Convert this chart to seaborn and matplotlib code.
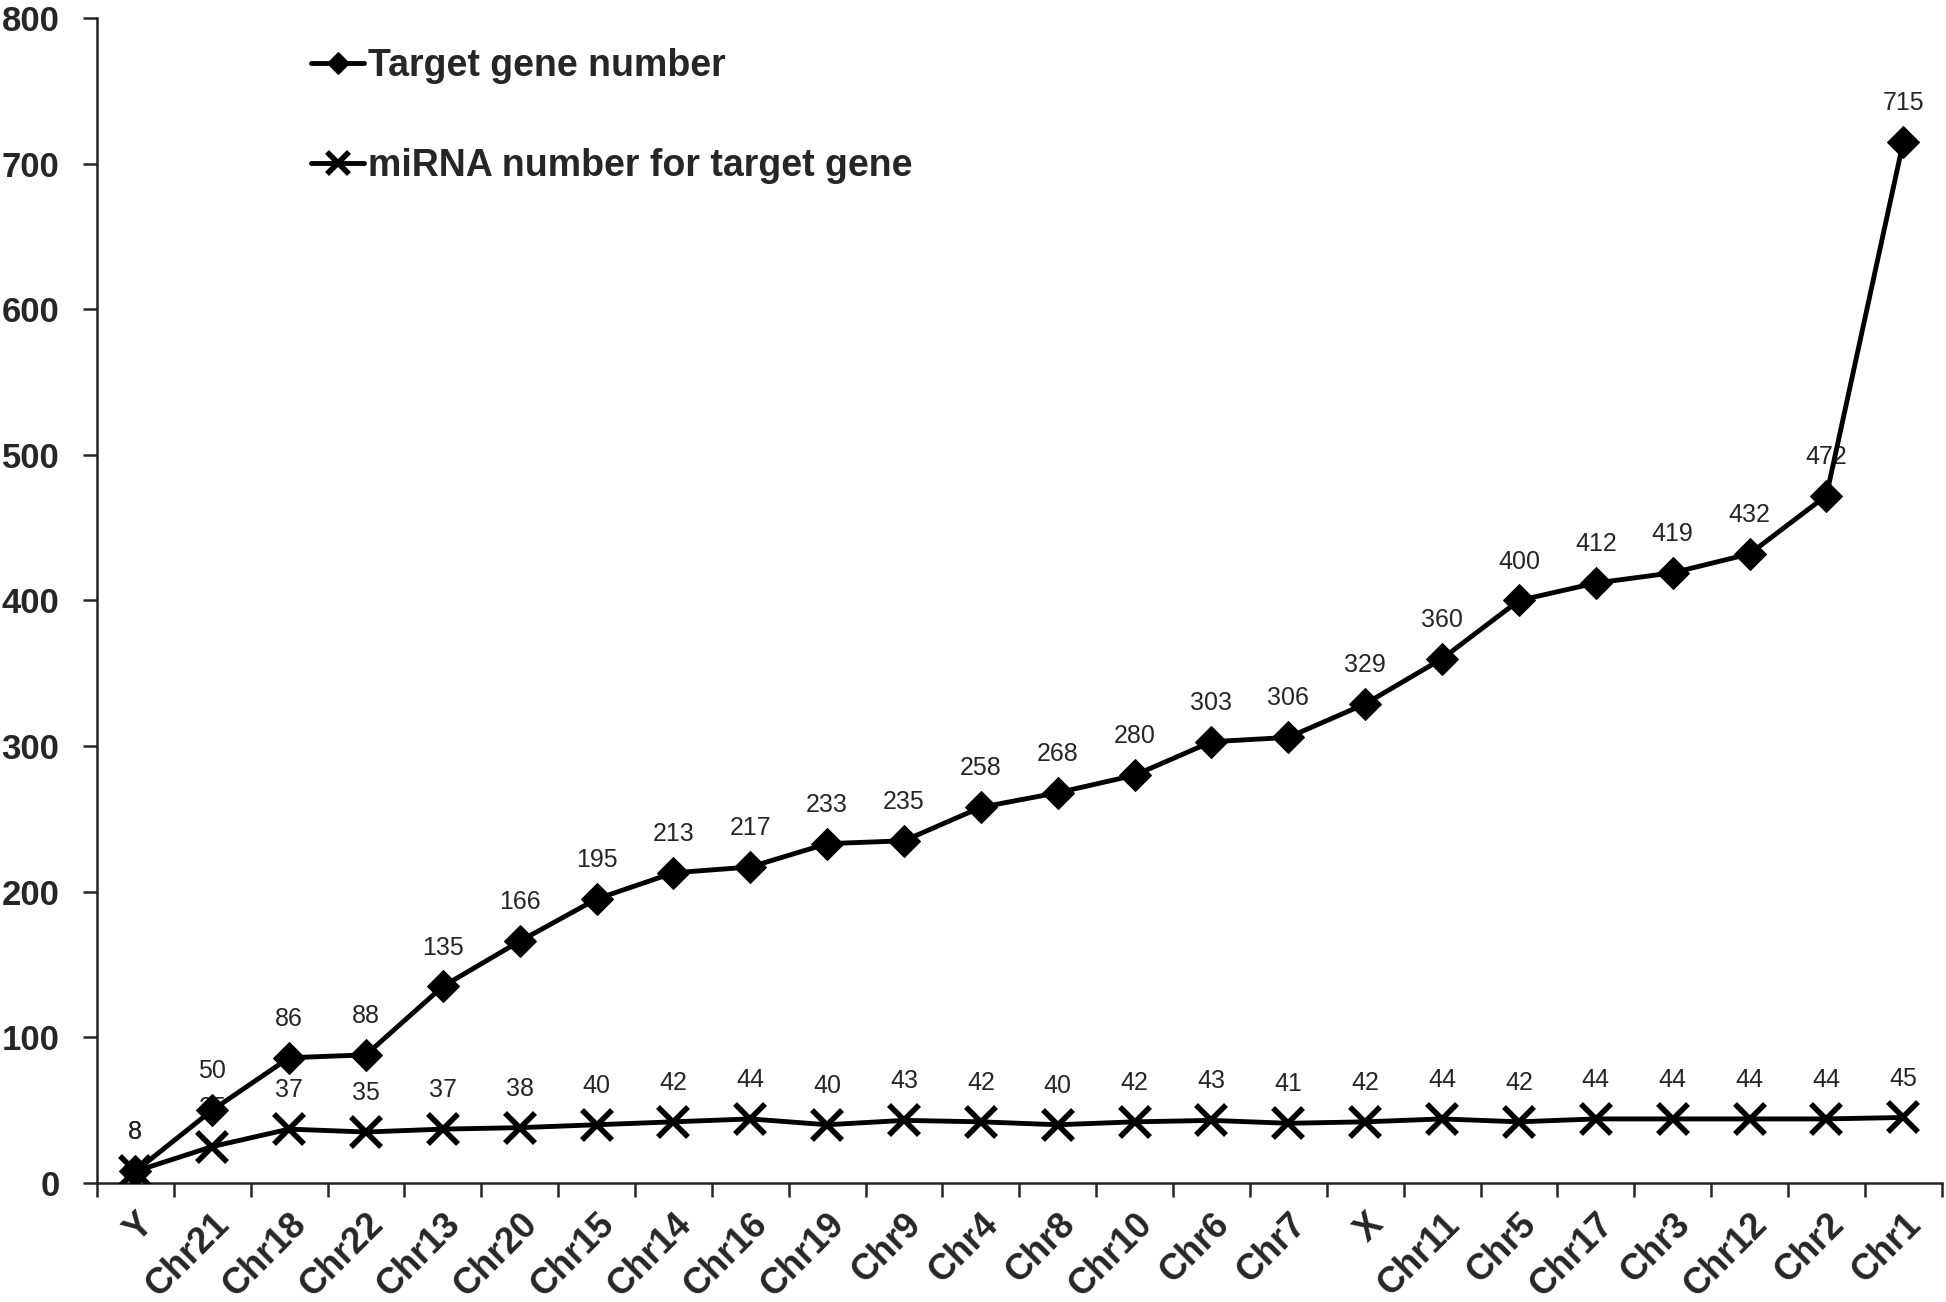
import numpy as np
import pandas as pd
import matplotlib
matplotlib.use('Agg')
import matplotlib.pyplot as plt
import matplotlib.transforms as mtransforms
import seaborn as sns

# chromosomes ordered by target gene count
chromosomes = ['Y', 'Chr21', 'Chr18', 'Chr22', 'Chr13', 'Chr20', 'Chr15', 'Chr14',
               'Chr16', 'Chr19', 'Chr9', 'Chr4', 'Chr8', 'Chr10', 'Chr6', 'Chr7',
               'X', 'Chr11', 'Chr5', 'Chr17', 'Chr3', 'Chr12', 'Chr2', 'Chr1']
target_genes = [8, 50, 86, 88, 135, 166, 195, 213, 217, 233, 235, 258, 268, 280,
                303, 306, 329, 360, 400, 412, 419, 432, 472, 715]
mirna_counts = [8, 25, 37, 35, 37, 38, 40, 42, 44, 40, 43, 42, 40, 42,
                43, 41, 42, 44, 42, 44, 44, 44, 44, 45]
y_ticks = [0, 100, 200, 300, 400, 500, 600, 700, 800]

sns.set_style('ticks')
plt.rcParams['font.family'] = ['Liberation Sans', 'DejaVu Sans']

df = pd.DataFrame({'chrom': chromosomes, 'target': target_genes, 'mirna': mirna_counts})

fig = plt.figure(figsize=(19.46, 13.02), dpi=100)
ax = fig.add_axes([0.0498, 0.0914, 0.948, 0.8948])

sns.lineplot(data=df, x='chrom', y='target', sort=False, ax=ax, color='black',
             linewidth=3.5, linestyle='-', marker='D', markersize=16,
             markeredgecolor='black', markerfacecolor='black',
             label='Target gene number', zorder=3)
sns.lineplot(data=df, x='chrom', y='mirna', sort=False, ax=ax, color='black',
             linewidth=3.5, linestyle='-', marker='x', markersize=22,
             markeredgewidth=4, markeredgecolor='black',
             label='miRNA number for target gene', zorder=3)

# value labels above points
for i, (t, m) in enumerate(zip(target_genes, mirna_counts)):
    ax.annotate(str(t), (i, t), xytext=(0, 28), textcoords='offset points',
                ha='center', va='center', fontsize=18, zorder=1)
    ax.annotate(str(m), (i, m), xytext=(0, 28), textcoords='offset points',
                ha='center', va='center', fontsize=18, zorder=1)

ax.set_xlim(-0.5, len(chromosomes) - 0.5)
ax.set_ylim(0, 800)
ax.set_yticks(y_ticks)
ax.set_xticks(range(len(chromosomes)))
ax.set_xticklabels(chromosomes, rotation=45, ha='right', rotation_mode='anchor',
                   fontsize=26, fontweight='bold')
shift = mtransforms.ScaledTranslation(-14 / 72, 0, fig.dpi_scale_trans)
for lab in ax.get_xticklabels():
    lab.set_transform(lab.get_transform() + shift)
ax.set_xticks(np.arange(-0.5, len(chromosomes), 1), minor=True)
ax.tick_params(axis='x', which='major', length=0, pad=17)
ax.tick_params(axis='x', which='minor', length=10, width=1.8, direction='out')
ax.tick_params(axis='y', length=10, width=1.8, direction='out', labelsize=25, pad=17)
for lab in ax.get_yticklabels():
    lab.set_fontweight('bold')

sns.despine(ax=ax)
for side in ['left', 'bottom']:
    ax.spines[side].set_linewidth(1.8)
    ax.spines[side].set_color('#222222')

ax.set_xlabel('')
ax.set_ylabel('')
ax.legend(loc='upper left', bbox_to_anchor=(0.098, 1.003), frameon=False,
          prop={'weight': 'bold', 'size': 27}, handlelength=1.4, handletextpad=0.1,
          labelspacing=1.7, markerscale=0.7)

fig.savefig('out.png', dpi=100)
